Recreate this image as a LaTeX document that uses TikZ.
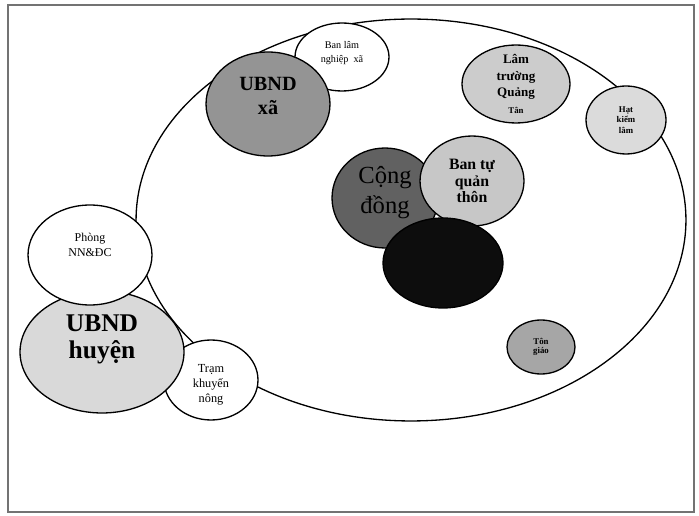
\documentclass[tikz,border=0pt]{standalone}
\usepackage{fontspec}
\setmainfont{Liberation Serif}
\usepackage{xcolor}
\usepackage{tikz}
\usetikzlibrary{shapes.geometric}
% nang dong chu len, giu nguyen kich thuoc hop
\newcommand{\nang}[2]{\raisebox{#1}[\height][\depth]{#2}}

\begin{document}
\begin{tikzpicture}[
		x=0.02cm, y=-0.02cm,
		every node/.style={draw, ellipse, line width=0.75pt, inner sep=-8pt, align=center},
		bubble/.style 2 args={minimum width=#1cm, minimum height=#2cm}
	]
	\useasboundingbox (0,0) rectangle (699,516);
	\draw[black!55, line width=1.2pt] (8,5) rectangle (694,512);

	% vung ngoai
	\node[bubble={11}{8.04}, fill=white] (vung) at (411,220) {};

	% phia tren
	\node[bubble={1.88}{1.36}, fill=white, font=\fontsize{5.8}{8}\selectfont] (banlam) at (342,57) {\nang{2.3pt}{Ban lâm}\\\nang{2.3pt}{nghiệp\ \ xã}};
	\node[bubble={2.48}{2.08}, fill=black!42, font=\fontsize{11.5}{14}\selectfont\bfseries] (ubndxa) at (268,104) {\nang{4.5pt}{UBND}\\\nang{4.5pt}{xã}};
	\node[bubble={2.16}{1.56}, fill=black!20, font=\fontsize{7.4}{9.5}\selectfont\bfseries] (lamtruong) at (516,84) {Lâm\\trường\\Quảng\\{\fontsize{5}{6}\selectfont Tân}};
	\node[bubble={1.6}{1.36}, fill=black!14, font=\fontsize{5}{5.8}\selectfont\bfseries] (hatkl) at (626,120) {Hạt\\kiểm\\lâm};

	% trung tam
	\node[bubble={2.12}{2.0}, fill=black!62, text=black, font=\fontsize{14}{17}\selectfont] (congdong) at (385,198) {\nang{3pt}{Cộng}\\\nang{3pt}{đồng}};
	\node[bubble={2.08}{1.8}, fill=black!22, font=\fontsize{9}{9.6}\selectfont\bfseries] (bantuquan) at (472,181) {Ban tự\\quản\\thôn};
	\node[bubble={2.4}{1.8}, fill=black!95] (den) at (443,263) {};
	\node[bubble={1.36}{1.08}, fill=black!35, font=\fontsize{5}{5.5}\selectfont\bfseries] (tongiao) at (541,347) {Tôn\\giáo};

	% cap huyen
	\node[bubble={1.88}{1.6}, fill=white, font=\fontsize{7}{8.5}\selectfont] (tram) at (211,380) {\nang{-2.5pt}{Trạm}\\\nang{-2.5pt}{khuyến}\\\nang{-2.5pt}{nông}};
	\node[bubble={3.28}{2.44}, fill=black!15, font=\fontsize{14.5}{15.5}\selectfont\bfseries] (ubndhuyen) at (102,352) {\nang{7pt}{UBND}\\\nang{7pt}{huyện}};
	\node[bubble={2.48}{2.0}, fill=white, font=\fontsize{6.8}{8.5}\selectfont] (phong) at (90,255) {\nang{5.7pt}{Phòng}\\\nang{5.7pt}{NN\&ĐC}};
\end{tikzpicture}
\end{document}
